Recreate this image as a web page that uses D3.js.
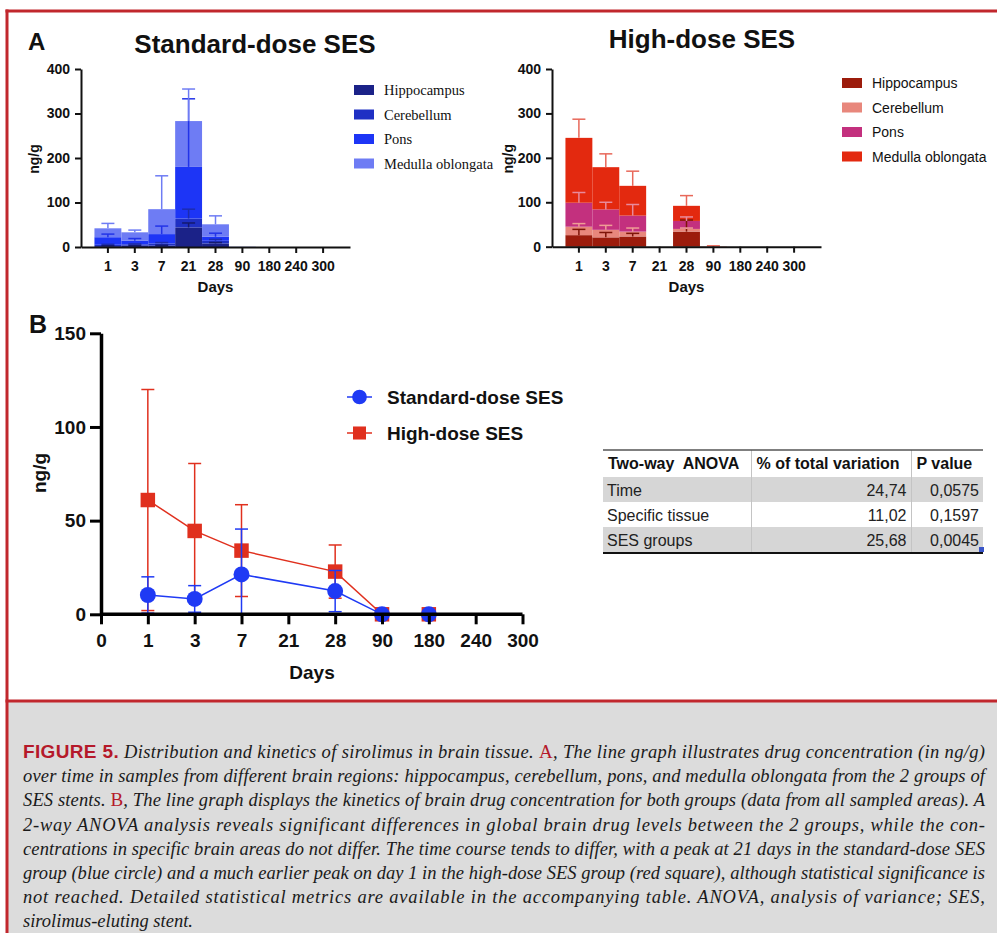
<!DOCTYPE html>
<html><head>
<meta charset="utf-8">
<script src="https://d3js.org/d3.v7.min.js"></script>
<style>
  body { margin: 0; background: #fff; }
  svg { display: block; }
  text { font-family: 'Liberation Sans', Arial, sans-serif; }
</style>
</head>
<body>
<script>
// ---------- Panel A: stacked bars, segment value per region, SD drawn above segment top
const days = ["1", "3", "7", "21", "28", "90", "180", "240", "300"]
const regions = ["Hippocampus", "Cerebellum", "Pons", "Medulla oblongata"]

const stdHippocampus = [2, 3, 3, 44, 8, 0, 0, 0, 0]
const stdCerebellum  = [3, 3, 5, 20, 6, 0, 0, 0, 0]
const stdPons        = [17, 8, 21, 116, 9, 0, 0, 0, 0]
const stdMedulla     = [20, 19, 56, 103, 28, 0.5, 0, 0, 0]
const stdHippoErr    = [1, 1, 1, 10, 2, 0, 0, 0, 0]
const stdCereErr     = [1, 1, 2, 21, 3, 0, 0, 0, 0]
const stdPonsErr     = [7, 5, 18, 153, 8, 0, 0, 0, 0]
const stdMedErr      = [11, 5, 75, 72, 19, 0, 0, 0, 0]

const highHippocampus = [26, 21, 23, 0, 34, 0, 0, 0, 0]
const highCerebellum  = [19, 17, 11, 0, 6, 0, 0, 0, 0]
const highPons        = [54, 46, 36, 0, 18, 0, 0, 0, 0]
const highMedulla     = [146, 95, 67, 0, 34, 0.5, 0, 0, 0]
const highHippoErr    = [13, 11, 7, 0, 26, 0, 0, 0, 0]
const highCereErr     = [7, 10, 8, 0, 2, 0, 0, 0, 0]
const highPonsErr     = [23, 16, 25, 0, 9, 0, 0, 0, 0]
const highMedErr      = [42, 30, 33, 0, 23, 1.5, 0, 0, 0]

const stdColors  = ["#1b2288", "#1f30c4", "#1d35f6", "#6e7cf4"]
const stdErrCol  = ["#141a6e", "#1c2cb0", "#2233e8", "#6e7cf4"]
const highColors = ["#9c1c0c", "#e8877c", "#c3307e", "#e3290f"]
const highErrCol = ["#7e1508", "#ef9e95", "#e88a9c", "#e8685a"]

// ---------- Panel B: mean +/- SD of all areas
const bDays = ["0", "1", "3", "7", "21", "28", "90", "180", "240", "300"]
const lineDays = ["1", "3", "7", "28", "90", "180"]
const stdMean = [10.3, 8.2, 21.3, 12.4, 0, 0]
const stdSD   = [9.7, 7.1, 24.2, 11, 0, 0]
const highMean = [61, 44.5, 34, 22.8, 0, 0]
const highSD   = [59, 36, 24.5, 14.2, 0, 0]

// ---------- ANOVA table
const anovaHeader = ["Two-way  ANOVA", "% of total variation", "P value"]
const anovaSource = ["Time", "Specific tissue", "SES groups"]
const anovaVariation = ["24,74", "11,02", "25,68"]
const anovaP = ["0,0575", "0,1597", "0,0045"]

// ---------- caption
const captionLines = [
  [["FIGURE 5.", "fig"], [" Distribution and kinetics of sirolimus in brain tissue. ", ""], ["A", "ref"], [", The line graph illustrates drug concentration (in ng/g)", ""]],
  [["over time in samples from different brain regions: hippocampus, cerebellum, pons, and medulla oblongata from the 2 groups of", ""]],
  [["SES stents. ", ""], ["B", "ref"], [", The line graph displays the kinetics of brain drug concentration for both groups (data from all sampled areas). A", ""]],
  [["2-way ANOVA analysis reveals significant differences in global brain drug levels between the 2 groups, while the con-", ""]],
  [["centrations in specific brain areas do not differ. The time course tends to differ, with a peak at 21 days in the standard-dose SES", ""]],
  [["group (blue circle) and a much earlier peak on day 1 in the high-dose SES group (red square), although statistical significance is", ""]],
  [["not reached. Detailed statistical metrics are available in the accompanying table. ANOVA, analysis of variance; SES,", ""]],
  [["sirolimus-eluting stent.", ""]]
]

const W = 997, H = 933
const svg = d3.select("body").append("svg").attr("width", W).attr("height", H)

// caption box + red frame
svg.append("rect").attr("x", 7).attr("y", 701).attr("width", W - 7).attr("height", H - 701).attr("fill", "#dcdcdc")
svg.append("line").attr("x1", 5.5).attr("x2", W).attr("y1", 11).attr("y2", 11)
   .attr("stroke", "#c1272d").attr("stroke-width", 3)
svg.append("line").attr("x1", 5.5).attr("x2", W).attr("y1", 701).attr("y2", 701)
   .attr("stroke", "#c1272d").attr("stroke-width", 3)
svg.append("line").attr("x1", 7).attr("x2", 7).attr("y1", 9.5).attr("y2", H)
   .attr("stroke", "#c1272d").attr("stroke-width", 3)

// ---------- stacked chart helper
function stackedChart(cfg) {
  const g = svg.append("g")
  const x = d3.scaleBand().domain(days).range([cfg.x0, cfg.x1]).paddingInner(0).paddingOuter(0.5)
  const y = d3.scaleLinear().domain([0, 400]).range([cfg.y0, cfg.yTop])

  const rows = days.map((d, i) => {
    const r = { day: d }
    regions.forEach((k, j) => r[k] = cfg.seg[j][i])
    return r
  })
  const series = d3.stack().keys(regions)(rows)

  g.selectAll("g.layer").data(series).join("g")
    .attr("class", "layer")
    .attr("fill", (d, i) => cfg.colors[i])
    .selectAll("rect").data(d => d).join("rect")
      .attr("x", d => x(d.data.day))
      .attr("width", x.bandwidth())
      .attr("y", d => y(d[1]))
      .attr("height", d => y(d[0]) - y(d[1]))

  // error bars (upward only, from top of each segment)
  series.forEach((s, i) => {
    s.forEach((d, j) => {
      const e = cfg.err[i][j]
      if (!e) return
      const cx = x(d.data.day) + x.bandwidth() / 2
      const y1 = y(d[1]), y2 = y(d[1] + e)
      g.append("line").attr("x1", cx).attr("x2", cx).attr("y1", y1).attr("y2", y2)
        .attr("stroke", cfg.errColors[i]).attr("stroke-width", 1.5)
      g.append("line").attr("x1", cx - 6.5).attr("x2", cx + 6.5).attr("y1", y2).attr("y2", y2)
        .attr("stroke", cfg.errColors[i]).attr("stroke-width", 1.5)
    })
  })

  const yAxis = g.append("g").attr("transform", `translate(${cfg.x0},0)`)
    .call(d3.axisLeft(y).tickValues([0, 100, 200, 300, 400]).tickSize(6).tickSizeOuter(0).tickPadding(5))
  const xAxis = g.append("g").attr("transform", `translate(0,${cfg.y0})`)
    .call(d3.axisBottom(x).tickSize(6).tickSizeOuter(0).tickPadding(8))
  ;[yAxis, xAxis].forEach(a => {
    a.select(".domain").attr("stroke", "#111").attr("stroke-width", 2)
    a.selectAll(".tick line").attr("stroke", "#111").attr("stroke-width", 2)
    a.selectAll(".tick text").attr("fill", "#111").style("font-size", "14px").style("font-weight", "bold")
      .style("font-family", "'Liberation Sans', Arial, sans-serif")
  })

  g.append("text").attr("x", cfg.titleX).attr("y", cfg.titleY).attr("text-anchor", "middle")
    .style("font-size", "26px").style("font-weight", "bold").attr("fill", "#111").text(cfg.title)
  g.append("text").attr("transform", `translate(${cfg.x0 - cfg.yLabelGap},${(cfg.y0 + cfg.yTop) / 2 + 1}) rotate(-90)`)
    .attr("text-anchor", "middle").attr("dy", "0.3em")
    .style("font-size", "14px").style("font-weight", "bold").attr("fill", "#111").text("ng/g")
  g.append("text").attr("x", x("28") + x.bandwidth() / 2).attr("y", 292).attr("text-anchor", "middle")
    .style("font-size", "15px").style("font-weight", "bold").attr("fill", "#111").text("Days")

  // legend
  const lg = g.append("g")
  regions.forEach((r, i) => {
    lg.append("rect").attr("x", cfg.legX).attr("y", cfg.legY + i * cfg.legStep)
      .attr("width", 20).attr("height", 10).attr("fill", cfg.colors[i])
    lg.append("text").attr("x", cfg.legX + 30).attr("y", cfg.legY + i * cfg.legStep + 10)
      .style("font-family", cfg.legFont).style("font-size", cfg.legSize).attr("fill", "#111").text(r)
  })
}

stackedChart({
  x0: 81, x1: 350, y0: 247, yTop: 69, yLabelGap: 46,
  seg: [stdHippocampus, stdCerebellum, stdPons, stdMedulla],
  err: [stdHippoErr, stdCereErr, stdPonsErr, stdMedErr],
  colors: stdColors, errColors: stdErrCol,
  title: "Standard-dose SES", titleX: 255, titleY: 53,
  legX: 354, legY: 85, legStep: 24.5,
  legFont: "'Liberation Serif', 'Times New Roman', serif", legSize: "14.5px"
})

stackedChart({
  x0: 552, x1: 821, y0: 246.7, yTop: 69, yLabelGap: 43,
  seg: [highHippocampus, highCerebellum, highPons, highMedulla],
  err: [highHippoErr, highCereErr, highPonsErr, highMedErr],
  colors: highColors, errColors: highErrCol,
  title: "High-dose SES", titleX: 702, titleY: 48,
  legX: 842, legY: 78, legStep: 24.5,
  legFont: "'Liberation Sans', Arial, sans-serif", legSize: "14px"
})

svg.append("text").attr("x", 28).attr("y", 50).style("font-size", "24px").style("font-weight", "bold")
  .attr("fill", "#111").text("A")

// ---------- Panel B
const bx = d3.scalePoint().domain(bDays).range([101, 522.5])
const by = d3.scaleLinear().domain([0, 150]).range([614.3, 333.3])
const gb = svg.append("g")

svg.append("text").attr("x", 29).attr("y", 333).style("font-size", "25px").style("font-weight", "bold")
  .attr("fill", "#111").text("B")

function drawSeries(mean, sd, color, shape) {
  const pts = lineDays.map((d, i) => ({ day: d, m: mean[i], s: sd[i] }))
  pts.forEach(p => {
    if (!p.s) return
    const cx = bx(p.day)
    const hi = by(p.m + p.s), lo = by(Math.max(0, p.m - p.s))
    gb.append("line").attr("x1", cx).attr("x2", cx).attr("y1", hi).attr("y2", lo)
      .attr("stroke", color).attr("stroke-width", 1.5)
    gb.append("line").attr("x1", cx - 6.5).attr("x2", cx + 6.5).attr("y1", hi).attr("y2", hi)
      .attr("stroke", color).attr("stroke-width", 1.5)
    if (p.m - p.s > 0)
      gb.append("line").attr("x1", cx - 6.5).attr("x2", cx + 6.5).attr("y1", lo).attr("y2", lo)
        .attr("stroke", color).attr("stroke-width", 1.5)
  })
  gb.append("path").datum(pts)
    .attr("d", d3.line().x(p => bx(p.day)).y(p => by(p.m)))
    .attr("fill", "none").attr("stroke", color).attr("stroke-width", 1.5)
  const sym = d3.symbol().type(shape).size(shape === d3.symbolSquare ? 210 : 200)
  gb.selectAll(null).data(pts).join("path")
    .attr("transform", p => `translate(${bx(p.day)},${by(p.m)})`)
    .attr("d", sym).attr("fill", color)
}

drawSeries(highMean, highSD, "#e0301e", d3.symbolSquare)
drawSeries(stdMean, stdSD, "#1f3af4", d3.symbolCircle)

const byAxis = gb.append("g").attr("transform", "translate(101,0)")
  .call(d3.axisLeft(by).tickValues([0, 50, 100, 150]).tickSize(11).tickSizeOuter(0).tickPadding(4))
const bxAxis = gb.append("g").attr("transform", "translate(0,614.3)")
  .call(d3.axisBottom(bx).tickSize(10).tickSizeOuter(0).tickPadding(9))
;[byAxis, bxAxis].forEach(a => {
  a.select(".domain").attr("stroke", "#000").attr("stroke-width", 3.5)
  a.selectAll(".tick line").attr("stroke", "#000").attr("stroke-width", 3)
  a.selectAll(".tick text").attr("fill", "#111").style("font-size", "19px").style("font-weight", "bold")
    .style("font-family", "'Liberation Sans', Arial, sans-serif")
})
bxAxis.select(".domain").attr("d", "M101,0H522.5")

gb.append("text").attr("transform", "translate(40,473) rotate(-90)").attr("text-anchor", "middle")
  .attr("dy", "0.3em").style("font-size", "19px").style("font-weight", "bold").attr("fill", "#111").text("ng/g")
gb.append("text").attr("x", 312).attr("y", 679).attr("text-anchor", "middle")
  .style("font-size", "19px").style("font-weight", "bold").attr("fill", "#111").text("Days")

// legend B
const bLegend = [["Standard-dose SES", "#1f3af4", d3.symbolCircle, 397], ["High-dose SES", "#e0301e", d3.symbolSquare, 433]]
bLegend.forEach(([label, color, shape, ly]) => {
  gb.append("line").attr("x1", 347).attr("x2", 372).attr("y1", ly).attr("y2", ly)
    .attr("stroke", color).attr("stroke-width", 1.5)
  gb.append("path").attr("transform", `translate(359.5,${ly})`)
    .attr("d", d3.symbol().type(shape).size(170)).attr("fill", color)
  gb.append("text").attr("x", 387).attr("y", ly + 7).style("font-size", "19px").style("font-weight", "bold")
    .attr("fill", "#111").text(label)
})

// ---------- ANOVA table
const tx = [603, 751.5, 911.5, 983]
const ty = [450, 477, 502, 527, 553]
const tg = svg.append("g")
anovaSource.forEach((s, i) => {
  tg.append("rect").attr("x", tx[0]).attr("y", ty[i + 1]).attr("width", tx[3] - tx[0]).attr("height", ty[i + 2] - ty[i + 1])
    .attr("fill", i === 1 ? "#ffffff" : "#d6d6d6")
})
;[1, 2].forEach(c => {
  tg.append("line").attr("x1", tx[c]).attr("x2", tx[c]).attr("y1", ty[0]).attr("y2", ty[4])
    .attr("stroke", "#c4c4c4").attr("stroke-width", 1)
})
tg.append("line").attr("x1", tx[0]).attr("x2", tx[3]).attr("y1", ty[0]).attr("y2", ty[0])
  .attr("stroke", "#555").attr("stroke-width", 1.5)
tg.append("line").attr("x1", tx[0]).attr("x2", tx[3]).attr("y1", ty[4]).attr("y2", ty[4])
  .attr("stroke", "#111").attr("stroke-width", 2)
anovaHeader.forEach((h, i) => {
  tg.append("text").attr("x", tx[i] + 5).attr("y", 469).style("font-size", "16px").style("font-weight", "bold")
    .style("white-space", "pre").attr("fill", "#111").text(h)
})
anovaSource.forEach((s, i) => {
  const yb = ty[i + 1] + 19
  tg.append("text").attr("x", tx[0] + 4).attr("y", yb).style("font-size", "16px").attr("fill", "#222").text(s)
  tg.append("text").attr("x", tx[2] - 5).attr("y", yb).attr("text-anchor", "end")
    .style("font-size", "16px").attr("fill", "#222").text(anovaVariation[i])
  tg.append("text").attr("x", tx[3] - 4).attr("y", yb).attr("text-anchor", "end")
    .style("font-size", "16px").attr("fill", "#222").text(anovaP[i])
})
tg.append("rect").attr("x", 979).attr("y", 547).attr("width", 5).attr("height", 5).attr("fill", "#3a55c8")

// ---------- caption text
captionLines.forEach((parts, i) => {
  const t = svg.append("text").attr("x", 23).attr("y", 758 + i * 24.2)
    .style("font-family", "'Liberation Serif', 'Times New Roman', serif")
    .style("font-style", "italic").style("font-size", "18.5px").style("white-space", "pre").attr("fill", "#1a1a1a")
  if (i < captionLines.length - 1) t.attr("textLength", 962).attr("lengthAdjust", "spacing")
  parts.forEach(([txt, kind]) => {
    const s = t.append("tspan").text(txt)
    if (kind === "fig") s.style("font-family", "'Liberation Sans Narrow', 'Liberation Sans', Arial, sans-serif")
      .style("font-style", "normal").style("font-weight", "bold").attr("fill", "#b5192a").style("font-size", "19px")
    if (kind === "ref") s.style("font-style", "normal").attr("fill", "#b5192a").style("font-size", "19px")
  })
})
</script>
</body></html>
